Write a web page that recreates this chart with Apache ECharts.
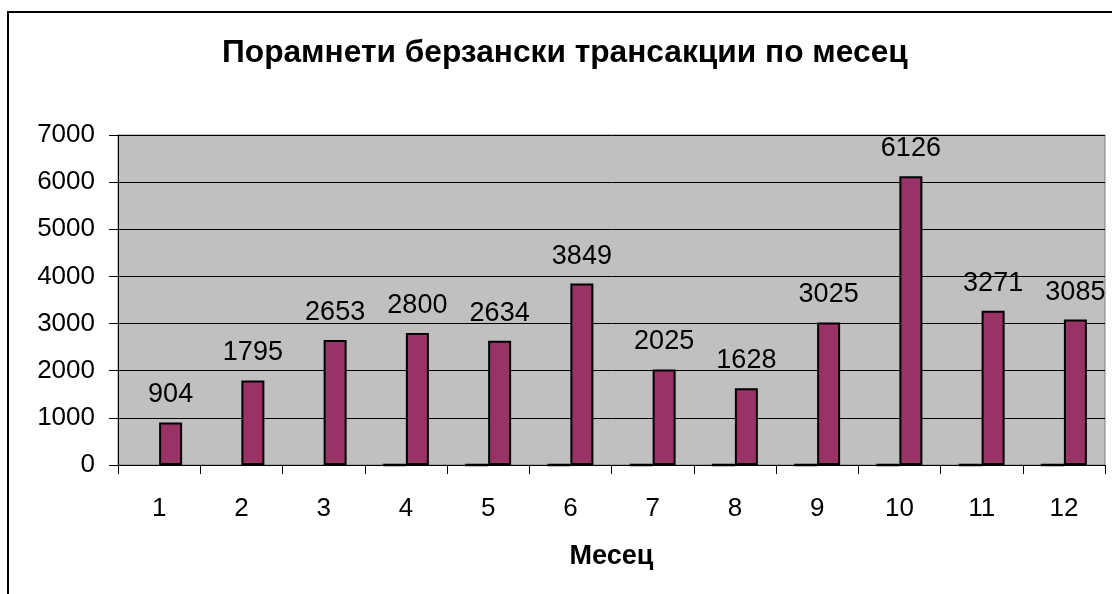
<!DOCTYPE html>
<html>
<head>
<meta charset="utf-8">
<title>Порамнети берзански трансакции по месец</title>
<script src="https://cdn.jsdelivr.net/npm/echarts@6/dist/echarts.min.js"></script>
<style>
  html, body { margin: 0; padding: 0; background: #fff; }
  #chart { width: 1112px; height: 594px; }
</style>
</head>
<body>
<div id="chart"></div>
<script>
const months = ['1', '2', '3', '4', '5', '6', '7', '8', '9', '10', '11', '12']
// empty first series in the source workbook (drawn as flat zero bars)
const blankSeries = [null, null, null, 0, 0, 0, 0, 0, 0, 0, 0, 0]
const transactions = [904, 1795, 2653, 2800, 2634, 3849, 2025, 1628, 3025, 6126, 3271, 3085]

const font = "'Liberation Sans', Arial, sans-serif"

const chart = echarts.init(document.getElementById('chart'))

chart.setOption({
  animation: false,
  backgroundColor: '#ffffff',
  textStyle: { fontFamily: font },
  title: {
    text: 'Порамнети берзански трансакции по месец',
    left: 222,
    top: 37,
    padding: 0,
    textStyle: { fontFamily: font, fontSize: 31.7, fontWeight: 'bold', color: '#000' },
  },
  graphic: [
    {
      type: 'rect',
      z: -1,
      shape: { x: 8, y: 12, width: 1140, height: 620 },
      style: { fill: null, stroke: '#000', lineWidth: 2 },
    },
  ],
  grid: {
    left: 118,
    top: 135,
    right: 7,
    bottom: 129,
    show: true,
    backgroundColor: '#c0c0c0',
    borderColor: '#808080',
    borderWidth: 1,
  },
  xAxis: {
    type: 'category',
    data: months,
    name: 'Месец',
    nameLocation: 'middle',
    nameGap: 78,
    nameTextStyle: { fontFamily: font, fontSize: 27, fontWeight: 'bold', color: '#000' },
    axisLine: { lineStyle: { color: '#000', width: 1 } },
    axisTick: { show: true, length: 9, lineStyle: { color: '#000' } },
    axisLabel: { color: '#000', fontSize: 26, fontFamily: font, margin: 31 },
  },
  yAxis: {
    type: 'value',
    min: 0,
    max: 7000,
    interval: 1000,
    axisLine: { show: true, lineStyle: { color: '#000', width: 1 } },
    axisTick: { show: true, length: 9, lineStyle: { color: '#000' } },
    axisLabel: { color: '#000', fontSize: 26, fontFamily: font, margin: 23, formatter: (v) => String(v) },
    splitLine: { lineStyle: { color: '#000', width: 1 } },
  },
  series: [
    {
      type: 'bar',
      data: blankSeries,
      barWidth: 23,
      barGap: '0%',
      itemStyle: { color: '#993366', borderColor: '#000', borderWidth: 2.5 },
    },
    {
      type: 'bar',
      data: transactions,
      barWidth: 23,
      barGap: '0%',
      itemStyle: { color: '#993366', borderColor: '#000', borderWidth: 2 },
      label: {
        show: true,
        position: 'top',
        distance: 14,
        color: '#000',
        fontSize: 27,
        fontFamily: font,
      },
    },
  ],
})
</script>
</body>
</html>
